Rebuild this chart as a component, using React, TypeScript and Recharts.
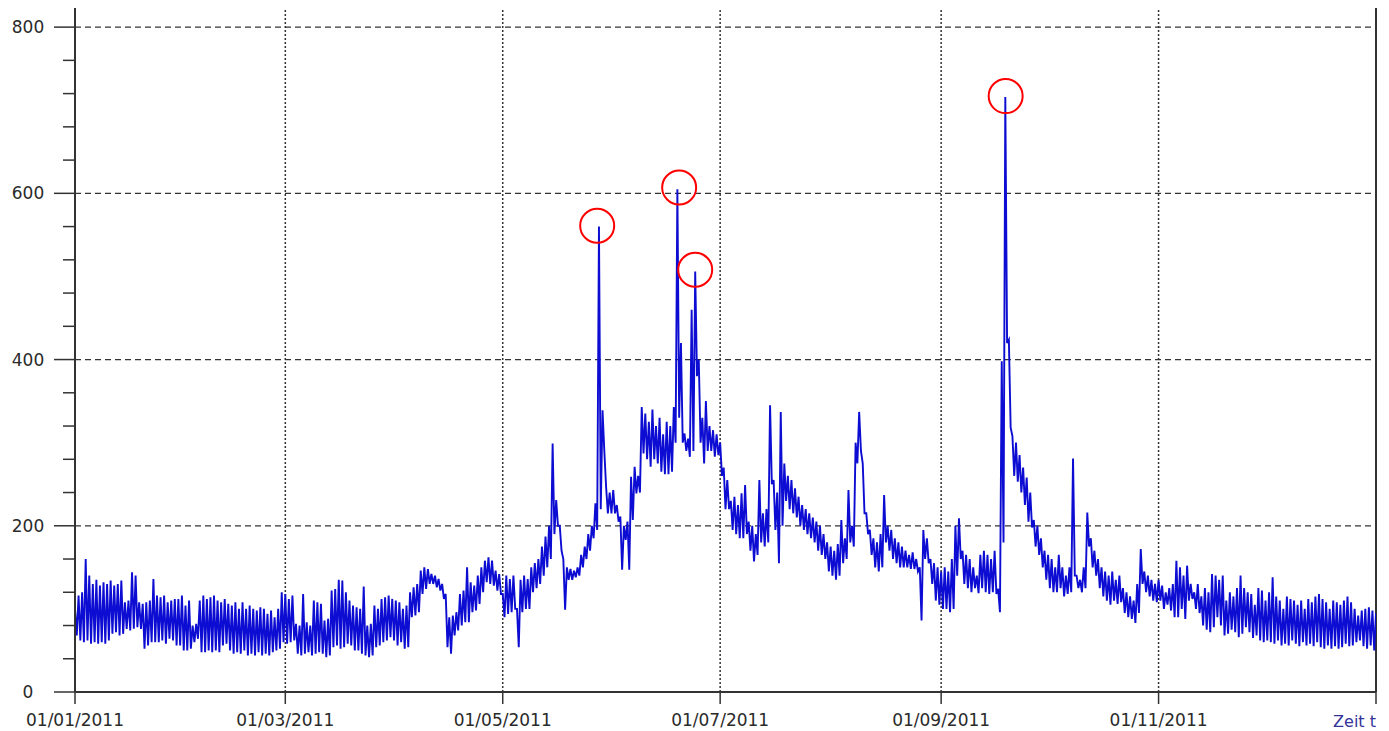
import React from 'react';
import { LineChart, Line, XAxis, YAxis, ReferenceLine, ReferenceDot, Label } from 'recharts';

// daily maxima (day 0 = 01/01/2011)
const dailyHigh = [
  100,116,120,160,140,130,135,128,132,130,
  134,128,130,134,108,110,144,140,108,106,
  108,110,136,116,114,116,108,110,112,112,
  116,104,110,80,82,110,116,112,114,116,
  110,108,112,106,104,108,100,108,100,104,
  100,98,102,100,94,98,90,100,120,118,
  112,116,82,80,118,84,80,110,108,106,
  86,88,122,124,135,134,120,110,104,102,
  100,127,80,82,104,100,112,114,116,112,
  110,108,100,104,120,126,130,146,150,148,
  142,140,136,130,118,90,92,96,118,122,
  150,132,128,140,150,158,162,158,146,142,
  118,140,136,140,100,135,140,136,150,155,
  160,175,187,200,299,231,200,160,150,148,
  146,150,165,175,190,200,227,560,339,247,
  240,243,225,211,200,205,259,271,260,343,
  335,325,340,320,330,310,325,320,343,605,
  420,311,305,460,506,400,330,350,320,315,
  310,300,270,255,230,235,225,239,249,205,
  200,190,255,215,220,345,255,240,337,275,
  260,255,245,235,225,220,215,210,205,200,
  190,180,175,170,178,207,185,243,200,300,
  337,275,215,195,185,180,190,237,200,195,
  185,180,175,170,165,168,160,150,195,185,
  160,155,150,145,150,145,160,200,209,170,
  165,160,150,140,165,170,165,160,170,124,
  398,716,424,308,300,285,270,258,240,207,
  200,185,170,165,160,150,165,150,140,150,
  281,140,135,150,216,185,170,160,150,145,
  140,145,135,140,125,120,115,110,130,172,
  145,140,135,130,135,128,120,125,130,158,
  150,140,152,130,120,130,115,125,120,142,
  140,135,140,110,120,115,125,140,125,120,
  118,105,125,122,110,120,138,115,110,100,
  115,112,110,105,110,100,112,108,115,118,
  112,108,100,110,108,105,110,115,108,100,
  92,98,100,102,98,95,
];

// daily minima
const dailyLow = [
  68,62,60,62,58,60,58,60,58,62,
  70,72,68,70,76,74,76,78,76,52,
  56,60,60,60,62,58,64,62,56,56,
  50,50,52,60,64,48,48,50,48,50,
  48,56,58,50,46,48,46,50,44,46,
  44,48,44,46,44,48,50,52,60,58,
  60,62,46,44,46,48,44,46,48,46,
  42,44,54,56,52,54,58,56,50,50,
  46,44,42,44,54,56,60,62,66,62,
  56,60,52,54,90,92,96,118,124,130,
  130,126,122,112,54,46,68,74,80,84,
  84,96,98,106,120,132,130,128,122,118,
  90,94,96,100,54,96,100,100,120,125,
  130,140,150,160,190,200,170,99,135,135,
  138,140,150,160,170,185,195,220,290,215,
  215,215,205,147,183,147,207,239,240,287,
  280,271,280,275,265,262,262,265,300,330,
  300,290,283,290,380,300,275,290,290,283,
  285,260,220,220,195,190,185,185,190,170,
  157,165,180,175,180,250,195,155,200,230,
  220,215,210,200,195,190,185,180,170,165,
  160,145,140,135,140,155,160,180,175,275,
  290,215,190,165,150,145,150,180,170,160,
  155,150,150,150,148,148,145,86,160,155,
  130,110,105,100,100,96,100,140,160,130,
  125,120,125,119,125,120,118,120,118,96,
  180,420,318,260,253,240,225,205,198,175,
  165,150,135,125,120,120,125,115,118,120,
  140,125,120,125,175,150,140,125,115,110,
  105,110,106,108,95,90,88,83,95,130,
  120,115,110,108,110,100,105,98,90,90,
  100,88,110,112,100,95,80,75,72,78,
  90,80,68,70,75,72,66,70,78,72,
  65,68,62,60,62,60,58,62,56,58,
  56,62,58,55,60,56,58,55,60,54,
  52,56,52,55,52,54,58,55,56,60,
  62,55,52,56,50,48,
];

const xTicks = [0, 59, 120, 181, 243, 304, 365];
const xTickLabels = ['01/01/2011', '01/03/2011', '01/05/2011', '01/07/2011', '01/09/2011', '01/11/2011', ''];
const monthGrid = [59, 120, 181, 243, 304];
const yTicks = [0,40,80,120,160,200,240,280,320,360,400,440,480,520,560,600,640,680,720,760,800];
const yGrid = [200, 400, 600, 800];
const peakT = [146.5, 169.5, 174.0, 261.1];
const peakV = [561, 607, 508, 717];

const data: { t: number; v: number }[] = [];
dailyHigh.forEach((h, i) => {
  data.push({ t: i, v: h });
  if (dailyLow[i] !== undefined) data.push({ t: i + 0.5, v: dailyLow[i] });
});

const FONT = '"DejaVu Sans", Verdana, sans-serif';
const AX = '#333333';

const YTick = (props: any) => {
  const { x, y, payload } = props;
  const major = payload.value % 200 === 0;
  return (
    <g>
      <line x1={x - (major ? 21 : 12)} y1={y} x2={x} y2={y} stroke={AX} strokeWidth={1.5} />
      {major && (
        <text x={28} y={y} dy={6} textAnchor="middle" fontFamily={FONT} fontSize={17} fill="#2a2a2a">
          {payload.value}
        </text>
      )}
    </g>
  );
};

const XTick = (props: any) => {
  const { x, y, payload } = props;
  const idx = xTicks.indexOf(payload.value);
  return (
    <text x={x} y={y} dy={20} textAnchor="middle" fontFamily={FONT} fontSize={17} fill="#2a2a2a">
      {xTickLabels[idx]}
    </text>
  );
};

const ZeitLabel = (props: any) => {
  const vb = props.viewBox || {};
  return (
    <text x={vb.x + vb.width} y={vb.y + 35} textAnchor="end" fontFamily={FONT} fontSize={16} fill="#333399">
      Zeit t
    </text>
  );
};

export default function App() {
  return (
    <div style={{ position: 'absolute', left: 0, top: 0, background: '#fff' }}>
      <LineChart width={1389} height={731} data={data} margin={{ top: 8, right: 13, bottom: 0, left: 0 }}>
        {monthGrid.map((m) => (
          <ReferenceLine key={'vx' + m} x={m} stroke={AX} strokeWidth={1.5} strokeDasharray="2 2" />
        ))}
        {yGrid.map((g) => (
          <ReferenceLine key={'hy' + g} y={g} stroke={AX} strokeWidth={1.2} strokeDasharray="6 4" />
        ))}
        <ReferenceLine x={365} stroke={AX} strokeWidth={2} />
        <XAxis
          type="number"
          dataKey="t"
          domain={[0, 365]}
          ticks={xTicks}
          interval={0}
          height={39}
          tickSize={12}
          tickMargin={2}
          axisLine={{ stroke: AX, strokeWidth: 2 }}
          tickLine={{ stroke: AX, strokeWidth: 1.5 }}
          tick={<XTick />}
          allowDataOverflow
        >
          <Label content={<ZeitLabel />} />
        </XAxis>
        <YAxis
          type="number"
          domain={[0, 823]}
          ticks={yTicks}
          interval={0}
          width={75}
          tickSize={0}
          tickMargin={0}
          tickLine={false}
          axisLine={{ stroke: AX, strokeWidth: 2 }}
          tick={<YTick />}
          allowDataOverflow
        />
        <Line
          type="linear"
          dataKey="v"
          stroke="#0c0cd2"
          strokeWidth={1.9}
          dot={false}
          isAnimationActive={false}
        />
        {peakT.map((t, i) => (
          <ReferenceDot key={'pk' + i} x={t} y={peakV[i]} r={17} fill="none" stroke="#ff0000" strokeWidth={2} />
        ))}
      </LineChart>
    </div>
  );
}
